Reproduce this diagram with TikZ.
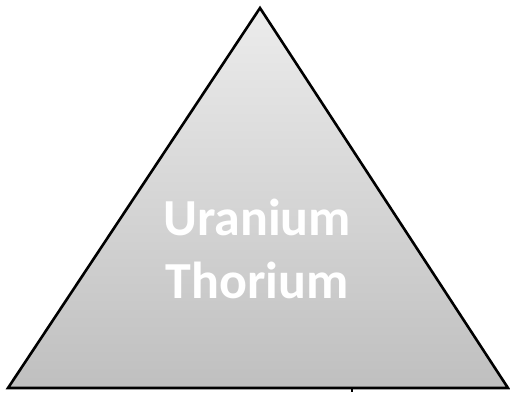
\documentclass[tikz,border=0pt]{standalone}
\usepackage{fontspec}
\setmainfont{Carlito}
\begin{document}
\begin{tikzpicture}[x=1pt,y=1pt,
  tri/.style={draw=black, line width=2.6pt, line join=miter, top color=gray!15, bottom color=gray!50},
  lbl/.style={text=white, font=\fontsize{52}{63}\selectfont\bfseries, align=center}]
\useasboundingbox (0,0) rectangle (510,392);
\coordinate (apex) at (260,384);
\coordinate (bl) at (8,4);
\coordinate (br) at (508,4);
\filldraw[tri] (apex) -- (br) -- (bl) -- cycle;
\node[lbl] (txt) at (257,143) {Uranium\\Thorium};
\coordinate (stubtop) at (352,4);
\coordinate (stubbot) at (352,0);
\draw[line width=2pt] (stubtop) -- (stubbot);
\end{tikzpicture}
\end{document}
